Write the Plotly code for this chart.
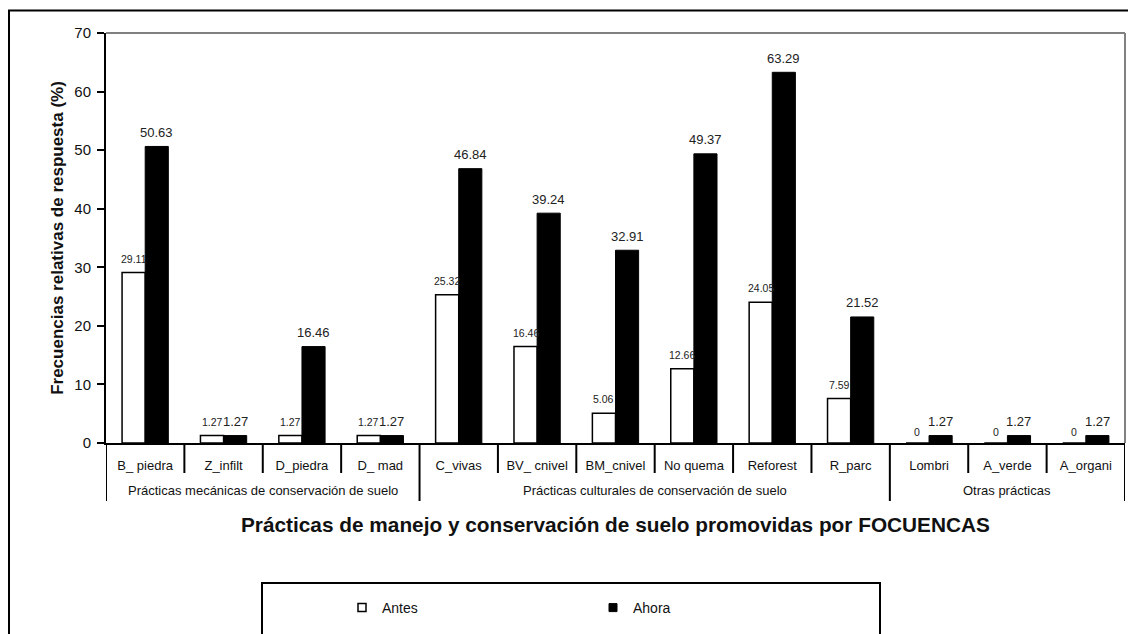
import plotly.graph_objects as go

categories = ["B_ piedra", "Z_infilt", "D_piedra", "D_ mad", "C_vivas", "BV_ cnivel",
              "BM_cnivel", "No quema", "Reforest", "R_parc", "Lombri", "A_verde", "A_organi"]
antes = [29.11, 1.27, 1.27, 1.27, 25.32, 16.46, 5.06, 12.66, 24.05, 7.59, 0, 0, 0]
ahora = [50.63, 1.27, 16.46, 1.27, 46.84, 39.24, 32.91, 49.37, 63.29, 21.52, 1.27, 1.27, 1.27]
groups = ["Prácticas mecánicas de conservación de suelo",
          "Prácticas culturales de conservación de suelo",
          "Otras prácticas"]
group_sizes = [4, 6, 3]
y_ticks = [0, 10, 20, 30, 40, 50, 60, 70]

OFF = 8  # page body margin
W, H = 1136 - OFF, 634 - OFF
# plot area in page pixels: x 106..1125, y 33..443
L, T = 106 - OFF, 33 - OFF
R, B = W - (1125 - OFF), H - (443 - OFF)
PW, PH = W - L - R, H - T - B

def px_x(xp):
    return (xp - OFF - L) / PW

def px_y(yp):
    return (H - B - (yp - OFF)) / PH

FONT = "Arial, Liberation Sans, sans-serif"
BARGAP = 0.41
half_bar = PW / len(categories) * (1 - BARGAP) / 4  # center offset of each bar in the pair

fig = go.Figure()
fig.add_trace(go.Bar(
    x=categories, y=antes, name="Antes", showlegend=False,
    marker=dict(color="white", line=dict(color="black", width=1.5)),
))
fig.add_trace(go.Bar(
    x=categories, y=ahora, name="Ahora", showlegend=False,
    marker=dict(color="black", line=dict(color="black", width=1)),
))
# legend entries
fig.add_trace(go.Scatter(x=[None], y=[None], mode="markers", name="Antes",
                         marker=dict(symbol="square", size=8, color="white",
                                     line=dict(color="black", width=1.5))))
fig.add_trace(go.Scatter(x=[None], y=[None], mode="markers", name="Ahora",
                         marker=dict(symbol="square", size=8, color="black",
                                     line=dict(color="black", width=1))))

n = len(categories)
shapes = []
shapes.append(dict(type="line", xref="paper", yref="paper", x0=0, x1=1, y0=1, y1=1,
                   line=dict(color="#808080", width=2)))
shapes.append(dict(type="line", xref="paper", yref="paper", x0=1, x1=1, y0=0, y1=1,
                   line=dict(color="#808080", width=2)))
bounds = [0]
for s in group_sizes:
    bounds.append(bounds[-1] + s)
for k in range(n + 1):
    long = k in bounds
    shapes.append(dict(type="line", xref="x", yref="paper", x0=k - 0.5, x1=k - 0.5,
                       y0=0, y1=px_y(501) if long else px_y(473),
                       line=dict(color="black", width=2)))
shapes.append(dict(type="rect", xref="paper", yref="paper",
                   x0=px_x(9), x1=px_x(1150), y0=px_y(650), y1=px_y(10.5),
                   line=dict(color="black", width=2), fillcolor="rgba(0,0,0,0)"))
shapes.append(dict(type="rect", xref="paper", yref="paper",
                   x0=px_x(262), x1=px_x(880), y0=px_y(650), y1=px_y(583),
                   line=dict(color="black", width=2), fillcolor="rgba(0,0,0,0)"))

annotations = []
for c, v in zip(categories, antes):
    annotations.append(dict(x=c, y=v, xref="x", yref="y", text=f"{v:g}" if v == 0 else f"{v:.2f}",
                            showarrow=False, xshift=-half_bar, yshift=14 if v else 11,
                            yanchor="middle",
                            font=dict(family=FONT, size=10.5, color="#222222")))
for c, v in zip(categories, ahora):
    annotations.append(dict(x=c, y=v, xref="x", yref="y", text=f"{v:.2f}",
                            showarrow=False, xshift=half_bar, yshift=14, yanchor="middle",
                            font=dict(family=FONT, size=13, color="#222222")))
for gi, g in enumerate(groups):
    mid = (bounds[gi] + bounds[gi + 1] - 1) / 2
    annotations.append(dict(x=mid, xref="x", y=px_y(490), yref="paper", text=g,
                            showarrow=False, yanchor="middle",
                            font=dict(family=FONT, size=13, color="#111")))
annotations.append(dict(x=0.5, xref="paper", y=px_y(524), yref="paper",
                        text="<b>Prácticas de manejo y conservación de suelo promovidas por FOCUENCAS</b>",
                        showarrow=False, yanchor="middle",
                        font=dict(family=FONT, size=20.8, color="#111")))

fig.update_layout(
    width=W, height=H,
    margin=dict(l=L, r=R, t=T, b=B, autoexpand=False),
    paper_bgcolor="white", plot_bgcolor="white",
    barmode="group", bargap=BARGAP, bargroupgap=0,
    font=dict(family=FONT, color="#111"),
    showlegend=True,
    legend=dict(orientation="h", x=px_x(342), xanchor="left", y=px_y(608), yanchor="middle",
                font=dict(family=FONT, size=14, color="#111"), entrywidth=206,
                bgcolor="rgba(0,0,0,0)", traceorder="normal"),
    xaxis=dict(range=[-0.5, n - 0.5], showline=True, linecolor="black", linewidth=2,
               ticks="", showgrid=False, tickfont=dict(family=FONT, size=13, color="#111"),
               ticklabelstandoff=9, fixedrange=True),
    yaxis=dict(range=[0, 70], tickvals=y_ticks, showline=True, linecolor="black", linewidth=2,
               ticks="outside", ticklen=7, tickwidth=2, tickcolor="black", showgrid=False,
               zeroline=False, tickfont=dict(family=FONT, size=15, color="#111"),
               ticklabelstandoff=3,
               title=dict(text="<b>Frecuencias relativas de respuesta (%)</b>",
                          font=dict(family=FONT, size=17, color="#111"), standoff=6)),
    shapes=shapes, annotations=annotations,
)

fig.write_html("out.html")
